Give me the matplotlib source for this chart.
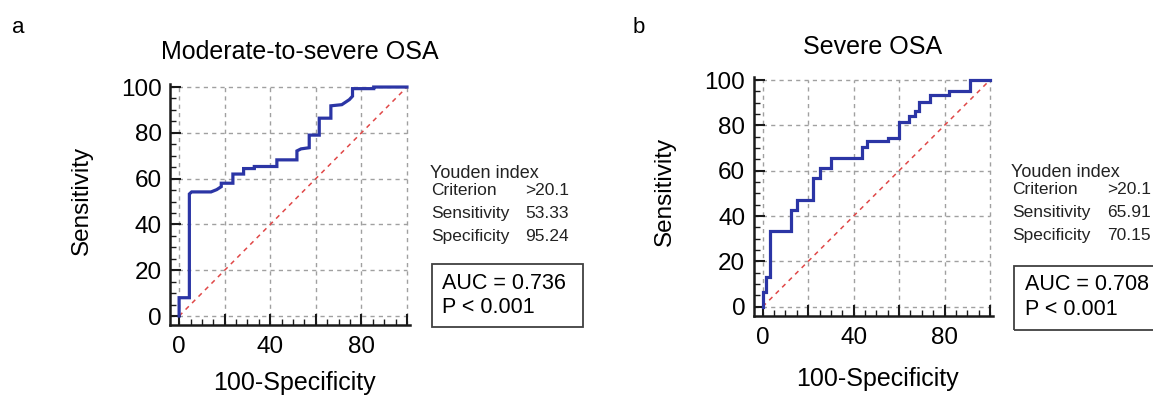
import matplotlib
matplotlib.use("Agg")
import matplotlib.pyplot as plt
from matplotlib.patches import Rectangle

plt.rcParams['font.family'] = ['Liberation Sans', 'DejaVu Sans']

W, H = 1153, 397

# ROC step vertices: x = 100-Specificity, y = Sensitivity
fpr_a = [0, 0, 4.5, 4.5, 5.5, 14, 16.5, 18.5, 18.5, 23.6, 23.6, 28.3, 28.3, 33, 33,
         42.9, 42.9, 51.7, 51.7, 53.5, 57.1, 57.1, 61.5, 61.5, 66.6, 66.6, 71.4,
         74.7, 76.1, 76.1, 85.4, 85.4, 100]
tpr_a = [0, 8, 8, 53.3, 54.2, 54.2, 55.2, 56.5, 58, 58, 62, 62, 64.4, 64.4, 65.3,
         65.3, 68.2, 68.2, 72.1, 73, 73.5, 79, 79, 86.4, 86.4, 91.8, 92.3,
         94.5, 96, 99.3, 99.3, 100, 100]

fpr_b = [0, 0, 1.5, 1.5, 3.2, 3.2, 12.3, 12.3, 15, 15, 22.3, 22.3, 25.2, 25.2,
         29.9, 29.9, 43.5, 43.5, 46, 46, 55.3, 55.3, 60.1, 60.1, 64.5, 64.5, 67,
         67, 68.8, 68.8, 73.6, 73.6, 82.1, 82.1, 91.2, 91.2, 100]
tpr_b = [0, 6.6, 6.6, 13.2, 13.2, 33.5, 33.5, 42.6, 42.6, 47.2, 47.2, 56.9, 56.9,
         61.3, 61.3, 65.4, 65.4, 70.3, 70.3, 73.1, 73.1, 74.6, 74.6, 81.3, 81.3,
         84.1, 84.1, 86.5, 86.5, 90.4, 90.4, 93.4, 93.4, 95.3, 95.3, 100, 100]

titles = ['Moderate-to-severe OSA', 'Severe OSA']
letters = ['a', 'b']
criterion = ['>20.1', '>20.1']
sensitivity = ['53.33', '65.91']
specificity = ['95.24', '70.15']
auc = ['0.736', '0.708']
pvalue = ['P < 0.001', 'P < 0.001']

grid_ticks = [0, 20, 40, 60, 80, 100]
x_ticklabels = ['0', '', '40', '', '80', '']
y_ticklabels = ['0', '20', '40', '60', '80', '100']

# pixel layout of each panel
layout = [
    dict(axes=(170, 410.4, 83.6, 325.2), letter=(12, 33), title=(300, 59),
         ylab=(82, 200), xlab=(294, 390), yd_left=430, yd_right=569,
         yd_base=(178, 195, 218, 241), box=(432, 583, 264, 327),
         box_text=(442, 289, 313)),
    dict(axes=(753.6, 993.4, 76.6, 315.8), letter=(633, 33), title=(873, 54),
         ylab=(665, 191), xlab=(877, 386), yd_left=1011, yd_right=1151,
         yd_base=(177, 194, 217, 240), box=(1014, 1170, 266, 330),
         box_text=(1025, 290, 315)),
]


def fx(x):
    return x / W


def fy(y):
    return 1 - y / H


fig = plt.figure(figsize=(W / 100, H / 100), dpi=100)

curves = [(fpr_a, tpr_a), (fpr_b, tpr_b)]
for i, (fpr, tpr) in enumerate(curves):
    L = layout[i]
    l, r, t, b = L['axes']
    ax = fig.add_axes([fx(l), fy(b), (r - l) / W, (b - t) / H])
    ax.set_xlim(-4, 101.5)
    ax.set_ylim(-4, 101.5)

    # grid only up to 100
    ax.hlines(grid_ticks, -4, 100, colors='#a0a0a0', linestyles=(0, (3, 3)),
              linewidth=1, zorder=1)
    ax.vlines(grid_ticks, -4, 100, colors='#a0a0a0', linestyles=(0, (3, 3)),
              linewidth=1, zorder=1)

    # reference diagonal
    ax.plot([0, 100], [0, 100], color='#e04848', linestyle=(0, (3, 3)),
            linewidth=1.1, zorder=2)
    # ROC curve
    ax.plot(fpr, tpr, color='#2b35a5', linewidth=2.3, zorder=3,
            solid_joinstyle='miter')

    for s in ['top', 'right']:
        ax.spines[s].set_visible(False)
    for s in ['left', 'bottom']:
        ax.spines[s].set_linewidth(1.8)
        ax.spines[s].set_color('#1a1a1a')

    ax.set_xticks(grid_ticks)
    ax.set_xticklabels(x_ticklabels)
    ax.set_yticks(grid_ticks)
    ax.set_yticklabels(y_ticklabels)
    ax.set_xticks(range(0, 101, 5), minor=True)
    ax.set_yticks(range(0, 101, 5), minor=True)
    ax.tick_params(which='major', direction='in', length=8, width=1.5,
                   labelsize=17.5, color='#1a1a1a')
    ax.tick_params(which='minor', direction='in', length=4, width=1,
                   color='#1a1a1a')
    ax.tick_params(axis='x', which='major', pad=8)
    ax.tick_params(axis='y', which='major', pad=6)

    # texts
    fig.text(fx(L['letter'][0]), fy(L['letter'][1]), letters[i], fontsize=16,
             ha='left', va='baseline')
    fig.text(fx(L['title'][0]), fy(L['title'][1]), titles[i], fontsize=18,
             ha='center', va='baseline')
    fig.text(fx(L['ylab'][0]), fy(L['ylab'][1]), 'Sensitivity', fontsize=17.5,
             rotation=90, ha='center', va='center')
    fig.text(fx(L['xlab'][0]), fy(L['xlab'][1]), '100-Specificity', fontsize=18,
             ha='center', va='baseline')

    yb = L['yd_base']
    fig.text(fx(L['yd_left']), fy(yb[0]), 'Youden index', fontsize=13,
             ha='left', va='baseline', color='#222222')
    rows = [('Criterion', criterion[i]), ('Sensitivity', sensitivity[i]),
            ('Specificity', specificity[i])]
    for (name, val), base in zip(rows, yb[1:]):
        fig.text(fx(L['yd_left'] + 1), fy(base), name, fontsize=12.5,
                 ha='left', va='baseline', color='#222222')
        fig.text(fx(L['yd_right']), fy(base), val, fontsize=12.5,
                 ha='right', va='baseline', color='#222222')

    bl, br, bt, bb = L['box']
    fig.patches.append(Rectangle((fx(bl), fy(bb)), (br - bl) / W, (bb - bt) / H,
                                 transform=fig.transFigure, fill=False,
                                 edgecolor='#404040', linewidth=1.3))
    tx, b1, b2 = L['box_text']
    fig.text(fx(tx), fy(b1), 'AUC = ' + auc[i], fontsize=15.5, ha='left',
             va='baseline')
    fig.text(fx(tx), fy(b2), pvalue[i], fontsize=15.5, ha='left',
             va='baseline')

fig.savefig('out.png', dpi=100, facecolor='white')
